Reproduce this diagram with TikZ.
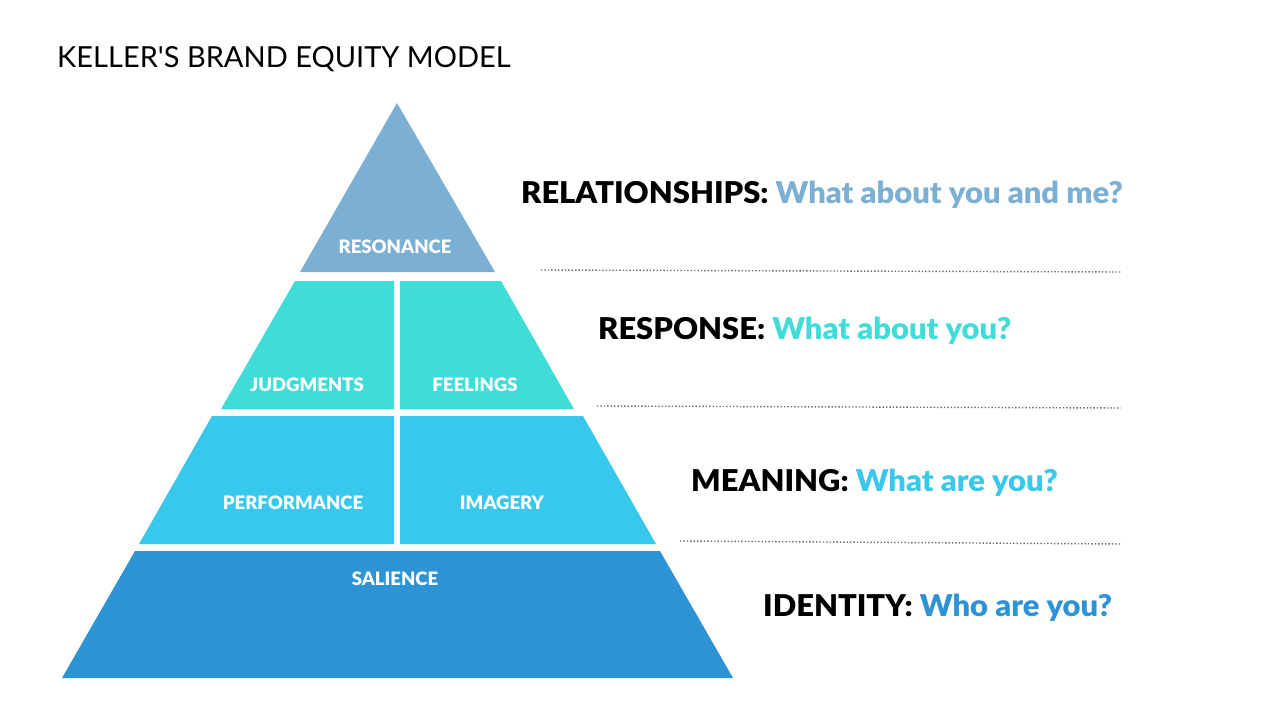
\documentclass[tikz,border=0pt]{standalone}
\usepackage{fontspec}
\setmainfont{Lato}
\newfontfamily\heavyfont{Lato Black}
\definecolor{cRes}{RGB}{123,175,212}
\definecolor{cResp}{RGB}{64,220,216}
\definecolor{cMean}{RGB}{56,200,238}
\definecolor{cId}{RGB}{46,147,213}
\definecolor{cDot}{RGB}{110,110,110}
\newcommand{\sidetext}[1]{\scalebox{1.03}[1]{#1}}
\tikzset{
  inlabel/.style={anchor=base, text=white, font=\fontsize{18.5}{20}\heavyfont, inner sep=0pt},
  sidelabel/.style={anchor=base west, font=\fontsize{30}{32}\heavyfont, inner sep=0pt},
  guide/.style={draw=cDot, dotted, line width=1.4pt},
}
\begin{document}
\begin{tikzpicture}[x=1pt,y=-1pt]
\useasboundingbox[fill=white] (0,0) rectangle (1280,720);
% title
\node[anchor=base west, inner sep=0pt, font=\fontsize{29}{32}\selectfont] (title) at (57,67) {KELLER\textquotesingle S BRAND EQUITY MODEL};
% pyramid tiers
\fill[cRes] (397,103) -- (495,272) -- (300,272) -- cycle;
\fill[cResp] (295,281) -- (394,281) -- (394,409) -- (221,409) -- cycle;
\fill[cResp] (400,281) -- (501,281) -- (574,409) -- (400,409) -- cycle;
\fill[cMean] (212,416) -- (394,416) -- (394,544) -- (139,544) -- cycle;
\fill[cMean] (400,416) -- (583,416) -- (656,544) -- (400,544) -- cycle;
\fill[cId] (135,551) -- (660,551) -- (733,678) -- (62,678) -- cycle;
% labels in pyramid
\node[inlabel] (resonance) at (395,253) {RESONANCE};
\node[inlabel] (judgments) at (307,391) {JUDGMENTS};
\node[inlabel] (feelings) at (475,391) {FEELINGS};
\node[inlabel] (performance) at (293,509) {PERFORMANCE};
\node[inlabel] (imagery) at (502,509) {IMAGERY};
\node[inlabel] (salience) at (395,585) {SALIENCE};
% side labels
\node[sidelabel] (rel) at (521,203) {\sidetext{RELATIONSHIPS: \textcolor{cRes}{What about you and me?}}};
\node[sidelabel] (resp) at (598,339) {\sidetext{RESPONSE: \textcolor{cResp}{What about you?}}};
\node[sidelabel] (mean) at (691,491) {\sidetext{MEANING: \textcolor{cMean}{What are you?}}};
\node[sidelabel] (ident) at (763,616) {\sidetext{IDENTITY: \textcolor{cId}{Who are you?}}};
% dotted guides
\coordinate (g1a) at (541,270); \coordinate (g1b) at (1121,272);
\coordinate (g2a) at (597,406); \coordinate (g2b) at (1121,408);
\coordinate (g3a) at (680,541); \coordinate (g3b) at (1121,544);
\draw[guide] (g1a) -- (g1b);
\draw[guide] (g2a) -- (g2b);
\draw[guide] (g3a) -- (g3b);
\end{tikzpicture}
\end{document}
